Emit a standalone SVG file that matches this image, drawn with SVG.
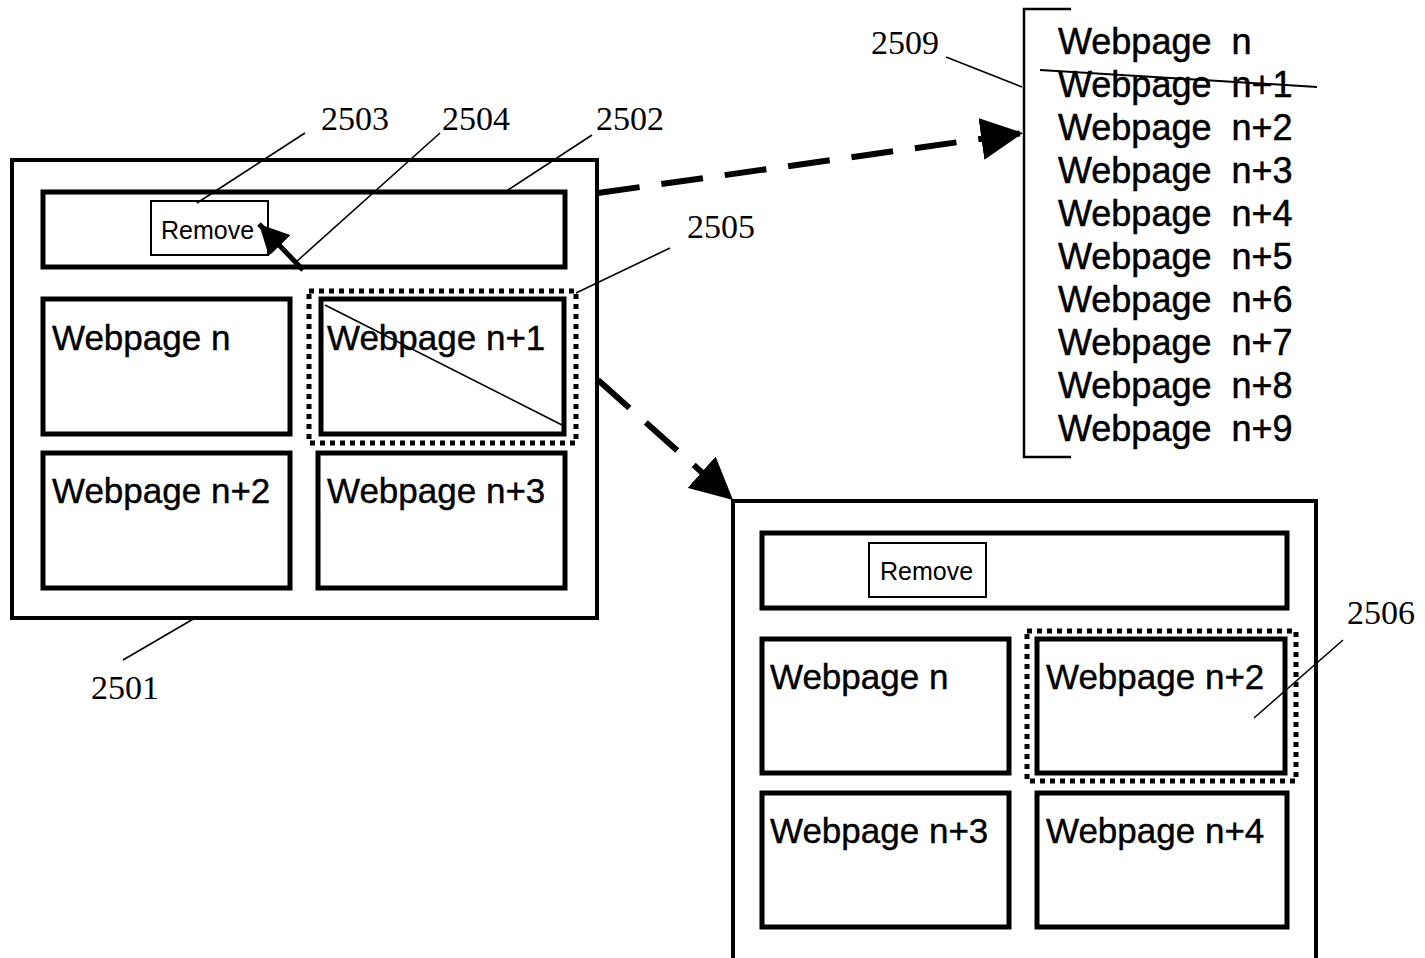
<svg xmlns="http://www.w3.org/2000/svg" width="1425" height="958" viewBox="0 0 1425 958">
<defs>
<style>
.frame{fill:none;stroke:#000;stroke-width:4}
.box{fill:none;stroke:#000;stroke-width:5}
.btn{fill:#fff;stroke:#000;stroke-width:2}
.dots{fill:none;stroke:#000;stroke-width:5;stroke-dasharray:5 5}
.lead{fill:none;stroke:#000;stroke-width:1.6}
.dash{fill:none;stroke:#000;stroke-width:6;stroke-dasharray:42 22}
.t{font-family:"Liberation Sans",Arial,sans-serif;font-size:35px;fill:#000;stroke:#000;stroke-width:0.4}
.lst{font-family:"Liberation Sans",Arial,sans-serif;font-size:36px;fill:#000;white-space:pre;stroke:#000;stroke-width:0.5}
.bt{font-family:"Liberation Sans",Arial,sans-serif;font-size:25px;fill:#000}
.lbl{font-family:"Liberation Serif","Times New Roman",serif;font-size:34px;fill:#000}
</style>
<marker id="ah" viewBox="0 0 10 10" refX="10" refY="5" markerWidth="7" markerHeight="7" markerUnits="strokeWidth" orient="auto">
<path d="M0,0 L10,5 L0,10 z" fill="#000"/>
</marker>
<marker id="ah2" viewBox="0 0 10 10" refX="10" refY="5" markerWidth="6" markerHeight="6" markerUnits="strokeWidth" orient="auto">
<path d="M0,0 L10,5 L0,10 z" fill="#000"/>
</marker>
</defs>
<rect width="1425" height="958" fill="#fff"/>

<g id="frame2501">
<rect class="frame" x="12" y="160" width="585" height="458"/>
</g>
<g id="bar2502">
<rect class="box" x="43" y="192" width="522" height="75"/>
</g>
<g id="remove2503">
<rect class="btn" x="151" y="201" width="117" height="54"/>
<text class="bt" x="161" y="239">Remove</text>
</g>
<g id="l-wn">
<rect class="box" x="43" y="299" width="247" height="135"/>
<text class="t" x="52" y="350">Webpage n</text>
</g>
<g id="l-wn1">
<rect class="dots" x="309" y="291" width="267" height="152"/>
<rect class="box" x="321" y="299" width="243" height="135"/>
<text class="t" x="327" y="350">Webpage n+1</text>
<line class="lead" x1="325" y1="305" x2="562" y2="425"/>
</g>
<g id="l-wn2">
<rect class="box" x="43" y="453" width="247" height="135"/>
<text class="t" x="52" y="503">Webpage n+2</text>
</g>
<g id="l-wn3">
<rect class="box" x="318" y="453" width="247" height="135"/>
<text class="t" x="327" y="503">Webpage n+3</text>
</g>

<g id="list2509">
<path class="frame" d="M1071,9 H1024 V457 H1071" style="stroke-width:2.5"/>
<text class="lst" x="1058" y="54">Webpage  n</text>
<text class="lst" x="1058" y="97">Webpage  n+1</text>
<text class="lst" x="1058" y="140">Webpage  n+2</text>
<text class="lst" x="1058" y="183">Webpage  n+3</text>
<text class="lst" x="1058" y="226">Webpage  n+4</text>
<text class="lst" x="1058" y="269">Webpage  n+5</text>
<text class="lst" x="1058" y="312">Webpage  n+6</text>
<text class="lst" x="1058" y="355">Webpage  n+7</text>
<text class="lst" x="1058" y="398">Webpage  n+8</text>
<text class="lst" x="1058" y="441">Webpage  n+9</text>
<line class="lead" x1="1040" y1="70" x2="1317" y2="87" style="stroke-width:2"/>
</g>

<g id="frame2">
<rect class="frame" x="733" y="501" width="583" height="462"/>
</g>
<g id="bar2">
<rect class="box" x="762" y="533" width="525" height="75"/>
</g>
<g id="remove2">
<rect class="btn" x="869" y="543" width="117" height="54"/>
<text class="bt" x="880" y="580">Remove</text>
</g>
<g id="r-wn">
<rect class="box" x="762" y="639" width="247" height="134"/>
<text class="t" x="770" y="689">Webpage n</text>
</g>
<g id="r-wn2">
<rect class="dots" x="1027" y="631" width="269" height="150"/>
<rect class="box" x="1037" y="639" width="248" height="134"/>
<text class="t" x="1046" y="689">Webpage n+2</text>
</g>
<g id="r-wn3">
<rect class="box" x="762" y="793" width="247" height="134"/>
<text class="t" x="770" y="843">Webpage n+3</text>
</g>
<g id="r-wn4">
<rect class="box" x="1037" y="793" width="250" height="134"/>
<text class="t" x="1046" y="843">Webpage n+4</text>
</g>

<g id="labels">
<text class="lbl" x="321" y="130">2503</text>
<text class="lbl" x="442" y="130">2504</text>
<text class="lbl" x="596" y="130">2502</text>
<text class="lbl" x="687" y="238">2505</text>
<text class="lbl" x="871" y="54">2509</text>
<text class="lbl" x="91" y="699">2501</text>
<text class="lbl" x="1347" y="624">2506</text>
</g>

<g id="connectors">
<line class="lead" x1="305" y1="133" x2="197" y2="203"/>
<line class="lead" x1="440" y1="133" x2="296" y2="262"/>
<line class="lead" x1="592" y1="135" x2="505" y2="192"/>
<line class="lead" x1="670" y1="248" x2="576" y2="293"/>
<line class="lead" x1="946" y1="57" x2="1022" y2="87"/>
<line class="lead" x1="123" y1="660" x2="195" y2="618"/>
<line class="lead" x1="1343" y1="640" x2="1254" y2="718"/>
<line x1="303" y1="270" x2="259" y2="224" stroke="#000" stroke-width="5" marker-end="url(#ah2)"/>
<line class="dash" x1="598" y1="193" x2="1023" y2="133" marker-end="url(#ah)"/>
<line class="dash" x1="598" y1="380" x2="733" y2="500" marker-end="url(#ah)"/>
</g>
</svg>
